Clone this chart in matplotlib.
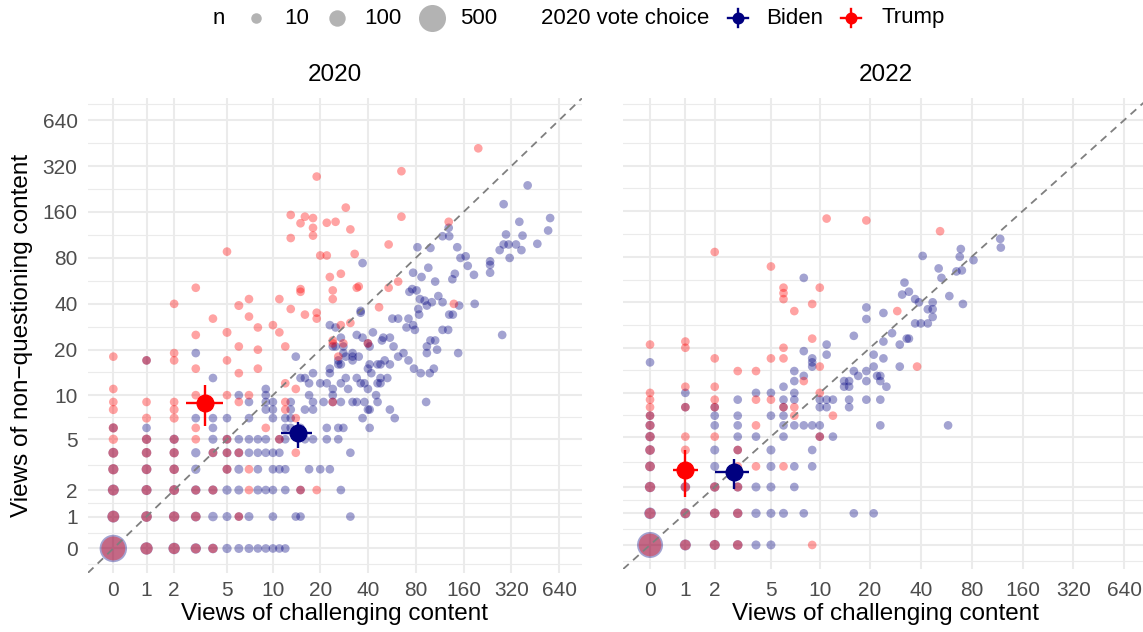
import numpy as np
import matplotlib.pyplot as plt
from matplotlib.ticker import FixedLocator, NullLocator

plt.rcParams['font.family'] = ['Liberation Sans', 'DejaVu Sans']

# axis breaks (same on x and y, pseudo-log scale)
breaks = [0, 1, 2, 5, 10, 20, 40, 80, 160, 320, 640]
size_breaks = [10, 100, 500]
vote_choices = ['Biden', 'Trump']
vote_colors = ['#000080', '#FF0000']

# (challenging views, non-questioning views, n respondents)
biden_2020 = [
    (0, 0, 520), (1, 0, 30), (2, 0, 20), (3, 0, 10), (4, 0, 5), (5, 0, 3), (6, 0, 2), (7, 0, 2),
    (8, 0, 1), (9, 0, 1), (10, 0, 1), (11, 0, 1), (12, 0, 1),
    (0, 1, 25), (1, 1, 12), (2, 1, 10), (3, 1, 6), (4, 1, 4), (5, 1, 2), (6, 1, 1), (7, 1, 2),
    (10, 1, 1), (14, 1, 1), (15, 1, 1), (31, 1, 1),
    (0, 2, 15), (1, 2, 8), (2, 2, 6), (3, 2, 4), (4, 2, 3), (5, 2, 3), (6, 2, 2), (8, 2, 2),
    (9, 2, 1), (10, 2, 1), (12, 2, 1), (15, 2, 1), (27, 2, 1),
    (0, 3, 8), (1, 3, 6), (2, 3, 4), (3, 3, 3), (5, 3, 2), (6, 3, 2), (8, 3, 1), (10, 3, 1),
    (11, 3, 1), (12, 3, 1), (17, 3, 1), (20, 3, 1), (23, 3, 1),
    (0, 4, 6), (1, 4, 4), (2, 4, 3), (3, 4, 3), (4, 4, 2), (5, 4, 2), (6, 4, 2), (7, 4, 1),
    (8, 4, 1), (9, 4, 1), (10, 4, 1), (11, 4, 1), (31, 4, 1),
    (1, 5, 3), (2, 5, 3), (4, 5, 2), (5, 5, 2), (6, 5, 1), (7, 5, 1), (8, 5, 1), (9, 5, 1),
    (11, 5, 1), (12, 5, 1), (16, 5, 1), (18, 5, 1), (22, 5, 1), (26, 5, 1),
    (0, 6, 2), (1, 6, 1), (4, 6, 1), (12, 6, 1), (13, 6, 1), (15, 6, 1), (22, 6, 1), (26, 6, 1),
    (28, 6, 1), (41, 6, 1),
    (3, 7, 1), (4, 7, 1), (5, 7, 1), (7, 7, 1), (10, 7, 1), (12, 7, 1), (13, 7, 1), (37, 7, 1),
    (59, 7, 1),
    (9, 8, 1), (10, 8, 1), (13, 8, 1), (16, 8, 1), (18, 8, 1), (40, 8, 1), (41, 8, 1), (55, 8, 1),
    (7, 9, 1), (9, 9, 1), (10, 9, 1), (13, 9, 1), (18, 9, 1), (21, 9, 1), (24, 9, 1), (27, 9, 1),
    (32, 9, 1), (34, 9, 1), (38, 9, 1), (46, 9, 1), (93, 9, 1),
    (6, 10, 1), (9, 10, 1), (17, 10, 1), (24, 10, 1), (45, 10, 1),
    (9, 11, 1), (24, 11, 1), (30, 11, 1), (40, 11, 1),
    (17, 12, 1), (20, 12, 1), (22, 12, 1), (27, 12, 1), (36, 12, 1), (38, 12, 1), (46, 12, 1),
    (48, 12, 1),
    (1, 17, 1), (3, 19, 1), (4, 13, 1), (14, 18, 1), (15, 13, 1), (16, 13, 1), (18, 14, 1),
    (29, 13, 1), (34, 13, 1), (23, 15, 1), (23, 14, 1), (26, 16, 1), (27, 16, 1), (26, 17, 1),
    (32, 17, 1), (29, 18, 1), (32, 18, 1), (35, 18, 1), (28, 19, 1), (32, 19, 1), (28, 21, 1),
    (24, 21, 1), (25, 21, 1), (27, 24, 1), (23, 29, 1), (25, 28, 1), (36, 35, 1), (36, 36, 1),
    (34, 25, 1), (37, 24, 1), (41, 16, 1), (40, 15, 1), (42, 14, 1), (48, 16, 1), (51, 17, 1),
    (46, 16, 1), (48, 13, 1), (53, 13, 1), (55, 16, 1), (41, 21, 1), (40, 22, 1), (43, 26, 1),
    (49, 23, 1), (50, 24, 1), (55, 24, 1), (58, 21, 1), (62, 18, 1), (67, 19, 1), (72, 17, 1),
    (78, 15, 1), (86, 14, 1), (98, 14, 1), (104, 15, 1), (94, 19, 1), (94, 21, 1), (109, 20, 1),
    (99, 23, 1), (106, 23, 1), (57, 32, 1), (62, 32, 1), (72, 32, 1), (70, 28, 1), (77, 29, 1),
    (79, 27, 1), (118, 27, 1), (128, 27, 1), (148, 19, 1), (280, 25, 1),
    (85, 43, 1), (91, 42, 1), (83, 37, 1), (84, 34, 1), (94, 39, 1), (101, 41, 1), (111, 45, 1),
    (118, 41, 1), (130, 34, 1), (137, 34, 1), (150, 39, 1), (188, 40, 1), (37, 74, 1),
    (73, 48, 1), (76, 50, 1), (81, 49, 1), (106, 56, 1), (136, 58, 1), (141, 63, 1), (77, 64, 1),
    (87, 60, 1), (96, 69, 1), (146, 94, 1), (82, 94, 1), (99, 93, 1), (118, 111, 1),
    (130, 111, 1), (129, 126, 1), (153, 80, 1), (165, 82, 1), (170, 71, 1), (186, 62, 1),
    (235, 76, 1), (235, 72, 1), (235, 64, 1), (312, 80, 1), (270, 90, 1), (370, 90, 1),
    (286, 98, 1), (307, 98, 1), (342, 98, 1), (466, 99, 1), (296, 114, 1), (376, 112, 1),
    (359, 138, 1), (561, 146, 1), (545, 121, 1), (286, 180, 1), (405, 239, 1),
]

trump_2020 = [
    (0, 0, 350), (1, 0, 25), (2, 0, 15), (3, 0, 6), (4, 0, 3),
    (0, 1, 20), (1, 1, 10), (2, 1, 8), (3, 1, 4), (6, 1, 1),
    (0, 2, 12), (1, 2, 6), (2, 2, 5), (3, 2, 2), (4, 2, 2), (7, 2, 1), (15, 2, 1), (19, 2, 1),
    (0, 3, 8), (1, 3, 5), (2, 3, 4), (5, 3, 2), (7, 3, 1),
    (0, 4, 6), (1, 4, 4), (2, 4, 3), (4, 4, 1), (5, 4, 1), (6, 4, 1), (14, 4, 1),
    (0, 5, 3), (1, 5, 3), (2, 5, 2), (3, 5, 1), (5, 5, 1), (11, 5, 1),
    (0, 6, 3), (3, 6, 1), (9, 6, 1),
    (1, 7, 2), (2, 7, 2), (14, 7, 1),
    (0, 8, 2), (2, 8, 2), (12, 8, 1),
    (0, 9, 1), (1, 9, 1), (2, 9, 1), (6, 9, 1), (12, 9, 1), (24, 9, 1),
    (3, 10, 1), (5, 10, 1), (7, 10, 1),
    (0, 11, 1), (14, 11, 1),
    (0, 18, 1), (1, 17, 1), (2, 40, 1), (2, 19, 1), (2, 17, 1), (3, 51, 1), (3, 25, 1),
    (3, 15, 1), (4, 32, 1), (5, 88, 1), (5, 26, 2), (5, 17, 1), (6, 39, 2), (6, 21, 1),
    (6, 14, 1), (7, 43, 1), (7, 33, 1), (8, 28, 1), (8, 20, 1), (8, 15, 1), (10, 29, 1),
    (11, 43, 1), (11, 26, 1), (12, 21, 1), (12, 12, 1), (13, 153, 1), (13, 108, 1), (13, 37, 1),
    (15, 135, 1), (15, 50, 1), (15, 48, 1), (16, 149, 1), (16, 34, 1), (18, 146, 1),
    (18, 126, 1), (18, 112, 1), (19, 273, 1), (19, 35, 1), (19, 32, 1), (20, 83, 1),
    (22, 136, 1), (22, 83, 1), (23, 60, 1), (24, 49, 1), (24, 43, 1), (24, 23, 1), (24, 22, 1),
    (25, 138, 1), (26, 18, 1), (27, 63, 1), (27, 29, 1), (28, 22, 1), (29, 171, 1),
    (31, 123, 1), (31, 30, 1), (33, 85, 1), (35, 52, 1), (34, 51, 1), (40, 22, 1), (47, 38, 1),
    (54, 98, 1), (54, 51, 1), (62, 56, 1), (65, 296, 1), (65, 149, 1), (129, 138, 1),
    (139, 40, 1), (198, 418, 1),
]

biden_2022 = [
    (0, 0, 450), (1, 0, 15), (2, 0, 8), (3, 0, 5), (4, 0, 2), (5, 0, 2),
    (0, 1, 20), (1, 1, 8), (2, 1, 5), (3, 1, 4), (4, 1, 3), (5, 1, 2), (6, 1, 2), (8, 1, 1),
    (16, 1, 1), (21, 1, 1),
    (0, 2, 10), (1, 2, 5), (2, 2, 4), (3, 2, 3), (4, 2, 2), (5, 2, 2), (7, 2, 1),
    (0, 3, 6), (2, 3, 2), (5, 3, 2), (7, 3, 1), (9, 3, 1),
    (0, 4, 5), (2, 4, 2), (3, 4, 1), (5, 4, 2), (9, 4, 1),
    (0, 5, 4), (3, 5, 1), (4, 5, 1), (6, 5, 1), (10, 5, 1), (12, 5, 1),
    (0, 6, 3), (2, 6, 1), (3, 6, 1), (6, 6, 1), (7, 6, 1), (8, 6, 1), (9, 6, 1), (10, 6, 1),
    (23, 6, 1), (58, 6, 1),
    (0, 7, 1), (2, 7, 1), (3, 7, 1), (5, 7, 1), (6, 7, 1),
    (1, 8, 1), (2, 8, 1), (6, 8, 1), (10, 8, 1), (11, 8, 1), (15, 8, 1),
    (3, 9, 1), (6, 9, 1), (7, 9, 1), (10, 9, 1), (11, 9, 1), (12, 9, 1), (15, 9, 1), (19, 9, 1),
    (23, 9, 1),
    (1, 10, 1), (4, 10, 1), (5, 10, 1), (7, 10, 1),
    (6, 11, 1), (7, 12, 1),
    (0, 16, 1), (7, 14, 1), (8, 13, 1), (8, 19, 1), (9, 17, 1), (9, 16, 1), (9, 15, 1),
    (11, 21, 1), (11, 18, 1), (14, 12, 1), (15, 12, 1), (16, 14, 1), (17, 13, 1), (19, 14, 1),
    (19, 12, 1), (21, 15, 1), (21, 18, 1), (22, 13, 1), (16, 24, 1), (19, 37, 1), (19, 31, 1),
    (8, 58, 1), (24, 34, 1), (27, 25, 1), (24, 22, 1), (30, 21, 1), (33, 23, 1), (34, 23, 1),
    (24, 17, 1), (30, 15, 1), (23, 13, 1), (25, 11, 1), (23, 12, 1), (15, 11, 1), (14, 11, 1),
    (32, 54, 1), (31, 45, 1), (34, 47, 1), (59, 44, 1), (71, 39, 1), (37, 42, 1), (39, 40, 1),
    (47, 40, 1), (47, 36, 1), (44, 36, 1), (47, 32, 1), (40, 29, 1), (37, 29, 1), (44, 29, 1),
    (41, 81, 1), (51, 67, 1), (53, 58, 1), (68, 80, 1), (69, 90, 1), (70, 65, 1), (65, 64, 1),
    (82, 76, 1), (118, 105, 1), (119, 92, 1),
]

trump_2022 = [
    (0, 0, 300), (1, 0, 10), (2, 0, 6), (3, 0, 4), (9, 0, 1),
    (0, 1, 12), (1, 1, 5), (2, 1, 4), (3, 1, 3),
    (0, 2, 8), (1, 2, 3), (2, 2, 3), (3, 2, 2),
    (0, 3, 5), (1, 3, 2), (3, 3, 1), (4, 3, 1), (6, 3, 1),
    (0, 4, 4), (1, 4, 2), (3, 4, 1),
    (0, 5, 3), (1, 5, 1), (2, 5, 1), (10, 5, 1),
    (0, 6, 2), (4, 6, 1),
    (0, 7, 1), (7, 7, 1), (12, 7, 1),
    (0, 8, 1), (1, 8, 1), (2, 8, 1), (6, 8, 1), (7, 8, 1),
    (0, 9, 1), (2, 9, 1), (4, 9, 1), (5, 9, 1),
    (0, 10, 1), (10, 10, 1),
    (1, 11, 1), (2, 11, 1), (8, 12, 1),
    (0, 21, 1), (1, 22, 1), (1, 20, 1), (2, 17, 1), (2, 86, 1), (3, 14, 1), (4, 14, 1),
    (5, 17, 1), (5, 69, 1), (6, 20, 1), (6, 17, 1), (6, 50, 1), (6, 46, 1), (6, 42, 1),
    (7, 35, 1), (9, 39, 1), (9, 23, 1), (10, 50, 1), (10, 15, 1), (11, 143, 1), (19, 139, 1),
    (29, 35, 1), (38, 15, 1), (52, 118, 1),
]

# group means with 95% intervals, ordered as vote_choices
mean_x_2020 = [14.4, 3.5]
mean_x_lo_2020 = [11.3, 2.5]
mean_x_hi_2020 = [17.7, 4.7]
mean_y_2020 = [5.5, 8.9]
mean_y_lo_2020 = [4.3, 6.2]
mean_y_hi_2020 = [6.6, 11.6]

mean_x_2022 = [2.8, 1.0]
mean_x_lo_2022 = [2.0, 0.63]
mean_x_hi_2022 = [3.6, 1.39]
mean_y_2022 = [2.7, 2.8]
mean_y_lo_2022 = [1.9, 1.6]
mean_y_hi_2022 = [3.4, 4.0]


def fwd(v):
    return np.arcsinh(np.asarray(v, dtype=float) / 2)


def inv(t):
    return 2 * np.sinh(np.asarray(t, dtype=float))


def point_size(n):
    # marker area in pt^2 from a diameter in pixels
    d_px = 7.8 + 0.86 * np.sqrt(np.asarray(n, dtype=float))
    return (d_px * 0.72) ** 2


W, H = 1143, 632
fig = plt.figure(figsize=(W / 100, H / 100), dpi=100)

# panel rectangles in pixels: left, top, right, bottom
panels = [
    ('2020', (88.0, 98.3, 581.9, 572.8), biden_2020, trump_2020,
     (mean_x_2020, mean_x_lo_2020, mean_x_hi_2020, mean_y_2020, mean_y_lo_2020, mean_y_hi_2020)),
    ('2022', (623.1, 98.4, 1148.4, 569.1), biden_2022, trump_2022,
     (mean_x_2022, mean_x_lo_2022, mean_x_hi_2022, mean_y_2022, mean_y_lo_2022, mean_y_hi_2022)),
]

t_lo, t_hi = -0.367, 6.79
major_t = fwd(breaks)
ext = np.concatenate([[-major_t[1]], major_t, [major_t[-1] + major_t[1]]])
minor_t = (ext[:-1] + ext[1:]) / 2
minor_t = minor_t[(minor_t > t_lo) & (minor_t < t_hi)]

grid_col = '#EBEBEB'
tick_col = '#4D4D4D'

for i, (title, (l, t, r, b), biden, trump, means) in enumerate(panels):
    ax = fig.add_axes([l / W, 1 - b / H, (r - l) / W, (b - t) / H])
    ax.set_xscale('function', functions=(fwd, inv))
    ax.set_yscale('function', functions=(fwd, inv))
    lims = inv([t_lo, t_hi])
    ax.set_xlim(*lims)
    ax.set_ylim(*lims)

    for s in ax.spines.values():
        s.set_visible(False)
    ax.set_xticks(breaks)
    ax.set_xticklabels([str(v) for v in breaks])
    ax.set_yticks(breaks)
    ax.xaxis.set_minor_locator(NullLocator())
    ax.yaxis.set_minor_locator(FixedLocator(inv(minor_t)))
    ax.grid(which='major', color=grid_col, lw=1.5, zorder=0)
    ax.grid(which='minor', axis='y', color=grid_col, lw=0.8, zorder=0)
    ax.set_axisbelow(True)

    bottom_pad = (581 - b) * 0.72
    ax.tick_params(axis='x', which='both', length=0, labelsize=15, colors=tick_col, pad=bottom_pad)
    if i == 0:
        ax.set_yticklabels([str(v) for v in breaks])
        ax.tick_params(axis='y', which='both', length=0, labelsize=15, colors=tick_col, pad=7.5)
        ax.set_ylabel('Views of non\u2212questioning content', fontsize=17.5, color='black')
        ax.yaxis.set_label_coords((22 - l) / (r - l), 0.5)
        ax.yaxis.label.set_va('center')
    else:
        ax.tick_params(axis='y', which='both', length=0, labelleft=False)

    ax.set_xlabel('Views of challenging content', fontsize=17.5, color='black')
    ax.xaxis.set_label_coords(0.5, (b - 614) / (b - t))
    ax.xaxis.label.set_va('center')

    ax.text(0.5, 1 + (t - 75) / (b - t), title, transform=ax.transAxes,
            ha='center', va='center', fontsize=17.5)

    for data, col in zip([biden, trump], vote_colors):
        x, y, n = zip(*data)
        ax.scatter(x, y, s=point_size(n), color=col, alpha=0.36, linewidths=0, zorder=2)

    ax.plot(lims, lims, color='#7F7F7F', lw=1.3, dashes=(4.2, 3.2), zorder=3)

    mx, mxlo, mxhi, my, mylo, myhi = means
    for k, col in enumerate(vote_colors):
        ax.errorbar([mx[k]], [my[k]],
                    xerr=[[mx[k] - mxlo[k]], [mxhi[k] - mx[k]]],
                    yerr=[[my[k] - mylo[k]], [myhi[k] - my[k]]],
                    fmt='o', ms=12, color=col, mec=col, elinewidth=1.7, capsize=0, zorder=5)

# legend row across the top
leg = fig.add_axes([0, 0, 1, 1], facecolor='none')
leg.set_xlim(0, W)
leg.set_ylim(H, 0)
leg.axis('off')
ly = 18
leg.text(213, ly, 'n', ha='left', va='center', fontsize=16)
for cx, tx, nval in zip([256, 337, 432], [284, 364, 460], size_breaks):
    leg.scatter([cx], [ly], s=point_size(nval), color='#B3B3B3', linewidths=0)
    leg.text(tx, ly, str(nval), ha='left', va='center', fontsize=16)
leg.text(541, ly, '2020 vote choice', ha='left', va='center', fontsize=16)
for cx, tx, name, col in zip([738, 851], [766, 881], vote_choices, vote_colors):
    leg.plot([cx - 10, cx + 10], [ly, ly], color=col, lw=1.7)
    leg.plot([cx, cx], [ly - 9, ly + 9], color=col, lw=1.7)
    leg.scatter([cx], [ly], s=(12 * 0.72) ** 2, color=col, linewidths=0)
    leg.text(tx, ly, name, ha='left', va='center', fontsize=16)

fig.savefig('out.png', dpi=100)
